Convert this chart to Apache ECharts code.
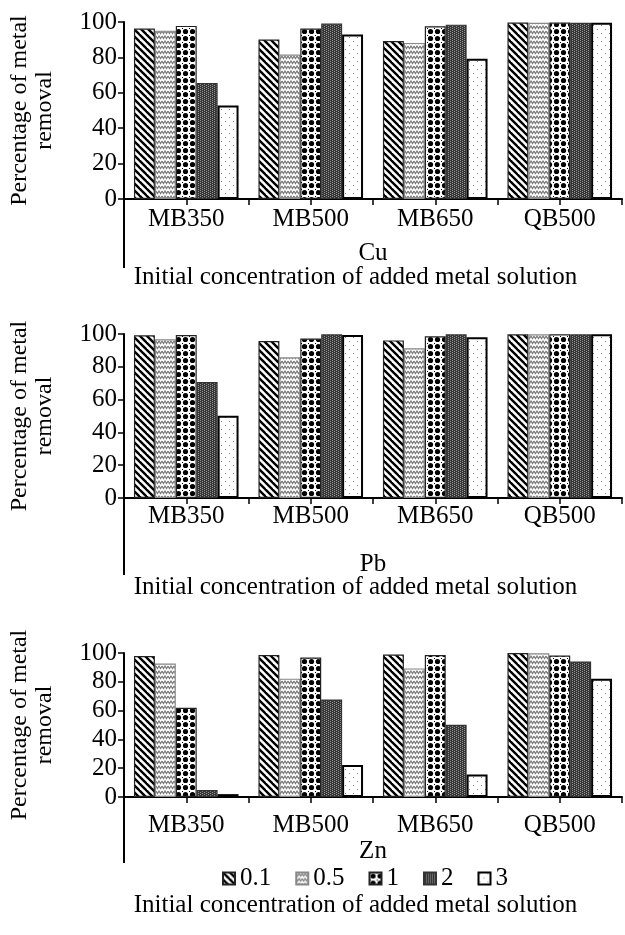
<!DOCTYPE html>
<html><head><meta charset="utf-8">
<script src="https://cdn.jsdelivr.net/npm/echarts@6/dist/echarts.min.js"></script>
<style>html,body{margin:0;padding:0;background:#fff}#c{width:625px;height:935px}</style>
</head><body><div id="c"></div>
<script>
// ---- data ----
const categories = ['MB350', 'MB500', 'MB650', 'QB500'];
const concentrations = ['0.1', '0.5', '1', '2', '3'];
const metals = ['Cu', 'Pb', 'Zn'];
const yMin = 0, yMax = 100, yStep = 20;
const yTitle = 'Percentage of metal\nremoval';
const xTitle = 'Initial concentration of added metal solution';

const cu_01 = [96.3, 90.1, 89.3, 99.7];
const cu_05 = [95.1, 81.6, 88.2, 99.6];
const cu_1  = [97.8, 96.3, 97.6, 99.7];
const cu_2  = [65.6, 99.1, 98.5, 99.6];
const cu_3  = [52.8, 92.9, 79.3, 99.6];

const pb_01 = [99.2, 95.7, 96.1, 99.8];
const pb_05 = [96.8, 85.8, 91.3, 99.8];
const pb_1  = [99.4, 97.2, 98.6, 99.8];
const pb_2  = [70.7, 99.8, 99.8, 99.8];
const pb_3  = [50.2, 99.4, 98.0, 99.8];

const zn_01 = [97.9, 98.6, 98.9, 100];
const zn_05 = [92.7, 82.2, 89.3, 99.8];
const zn_1  = [62.0, 96.8, 98.6, 98.2];
const zn_2  = [4.8, 67.7, 50.1, 94.1];
const zn_3  = [2.0, 22.3, 15.7, 82.2];

const metalData = [
  [cu_01, cu_05, cu_1, cu_2, cu_3],
  [pb_01, pb_05, pb_1, pb_2, pb_3],
  [zn_01, zn_05, zn_1, zn_2, zn_3]
];

// ---- patterns ----
function tile(w, h, draw) {
  const c = document.createElement('canvas');
  c.width = w; c.height = h;
  const g = c.getContext('2d');
  g.fillStyle = '#fff'; g.fillRect(0, 0, w, h);
  draw(g, w, h);
  return { image: c, repeat: 'repeat' };
}
const patterns = [
  tile(7, 7, (g) => {
    g.strokeStyle = '#000'; g.lineWidth = 2.4;
    for (let k = -7; k <= 7; k += 7) { g.beginPath(); g.moveTo(k - 1, -1); g.lineTo(k + 8, 8); g.stroke(); }
  }),
  tile(6, 5, (g) => {
    g.strokeStyle = '#7a7a7a'; g.lineWidth = 1.2;
    g.beginPath(); g.moveTo(0, 1); g.lineTo(1.5, 3.5); g.lineTo(3, 1); g.lineTo(4.5, 3.5); g.lineTo(6, 1); g.stroke();
  }),
  tile(7, 7, (g) => {
    g.fillStyle = '#000';
    g.beginPath(); g.arc(3.5, 3.5, 2.6, 0, Math.PI * 2); g.fill();
    g.fillRect(0, 0, 1, 1);
  }),
  tile(4, 2, (g) => {
    g.fillStyle = '#363636'; g.fillRect(0, 0, 4, 2);
    g.fillStyle = '#959595'; g.fillRect(0, 0, 1, 1); g.fillRect(2, 1, 1, 1);
  }),
  tile(8, 8, (g) => {
    g.fillStyle = '#888'; g.fillRect(1, 1, 1, 1); g.fillRect(5, 5, 1, 1);
  })
];
const borders = [
  { c: '#222', w: 1.2 }, { c: '#888', w: 1.2 }, { c: '#222', w: 1.2 }, { c: '#333', w: 1.2 }, { c: '#000', w: 2 }
];

// ---- layout ----
const FONT = '"Liberation Serif", "Times New Roman", serif';
const FS = 25;
const grids = [
  { left: 124, width: 498, top: 22, height: 177 },
  { left: 124, width: 498, top: 334, height: 164 },
  { left: 124, width: 498, top: 653, height: 144 }
];
const labelMargin = [8, 6, 16];
const nameGap = [42, 54, 42];
const lineEnd = [268, 575, 863];
const titleCenter = [278, 588, 906];

const option = {
  animation: false,
  backgroundColor: '#fff',
  textStyle: { fontFamily: FONT, color: '#000' },
  grid: grids.map(g => Object.assign({ containLabel: false, outerBoundsMode: 'none' }, g)),
  title: titleCenter.map(y => ({
    text: xTitle, left: 355.5, textAlign: 'center', top: y - 13, padding: 0,
    textStyle: { fontFamily: FONT, fontSize: FS, fontWeight: 'normal', color: '#000' }
  })),
  legend: {
    data: concentrations, left: 222, top: 866, padding: 0, itemGap: 24,
    itemWidth: 12, itemHeight: 12, icon: 'rect',
    textStyle: { fontFamily: FONT, fontSize: FS, color: '#000' }
  },
  xAxis: [],
  yAxis: [],
  series: [],
  graphic: grids.map((g, i) => ({
    type: 'line', shape: { x1: 124, y1: g.top + g.height, x2: 124, y2: lineEnd[i] },
    style: { stroke: '#000', lineWidth: 2 }, silent: true
  }))
};

grids.forEach((g, i) => {
  option.xAxis.push({
    type: 'category', gridIndex: i, data: categories, position: 'bottom',
    name: metals[i], nameLocation: 'middle', nameGap: nameGap[i],
    nameTextStyle: { fontFamily: FONT, fontSize: FS, color: '#000' },
    axisLine: { show: true, lineStyle: { color: '#000', width: 2 } },
    axisTick: { show: true, length: 6, lineStyle: { color: '#000', width: 1.5 } },
    axisLabel: { fontFamily: FONT, fontSize: FS, color: '#000', margin: labelMargin[i] },
    splitLine: { show: false }
  });
  option.xAxis.push({
    type: 'category', gridIndex: i, data: categories, position: 'bottom',
    axisLine: { show: false },
    axisTick: { show: true, alignWithLabel: true, length: 6, lineStyle: { color: '#000', width: 1.5 } },
    axisLabel: { show: false }, splitLine: { show: false }
  });
  option.yAxis.push({
    type: 'value', gridIndex: i, min: yMin, max: yMax, interval: yStep,
    name: yTitle, nameLocation: 'middle', nameGap: 67, nameRotate: 90,
    nameTextStyle: { fontFamily: FONT, fontSize: 24, color: '#000', lineHeight: 25 },
    axisLine: { show: true, lineStyle: { color: '#000', width: 2 } },
    axisTick: { show: true, length: 6, lineStyle: { color: '#000', width: 1.5 } },
    axisLabel: { fontFamily: FONT, fontSize: FS, color: '#000', margin: 7 },
    splitLine: { show: false }
  });
  concentrations.forEach((c, k) => {
    option.series.push({
      type: 'bar', name: c, xAxisIndex: 2 * i, yAxisIndex: i,
      data: metalData[i][k], barGap: '0%', barCategoryGap: '16%',
      itemStyle: { color: patterns[k], borderColor: borders[k].c, borderWidth: borders[k].w },
      emphasis: { disabled: true }
    });
  });
});

const chart = echarts.init(document.getElementById('c'), null, { renderer: 'canvas' });
chart.setOption(option);
</script>
</body></html>
